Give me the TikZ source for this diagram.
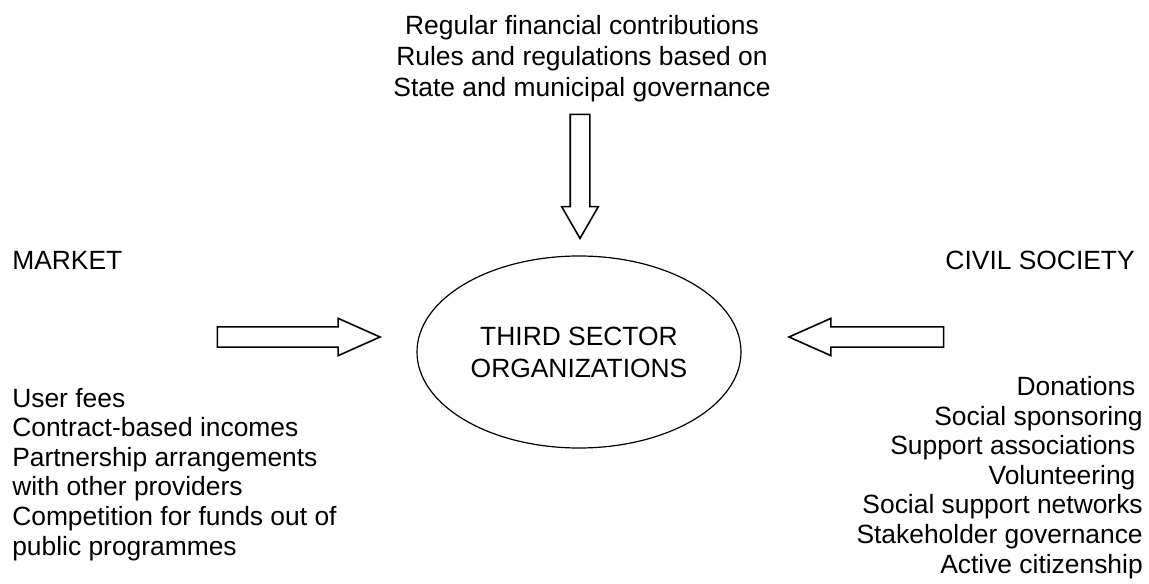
\documentclass[tikz,border=0pt]{standalone}
\usepackage{fontspec}
\setmainfont{Liberation Sans}
\usetikzlibrary{shapes,shapes.arrows,positioning}

\begin{document}
\begin{tikzpicture}[x=0.75pt, y=-0.75pt,
    every node/.style={inner sep=0pt, font=\fontsize{19.8}{22.2}\selectfont},
    fatarrow/.style={single arrow, draw, line width=1.2pt, inner xsep=0pt,
      inner ysep=7pt, single arrow head extend=6.4pt, single arrow tip angle=48}]
    \useasboundingbox (0,0) rectangle (1149,584);

    \node[draw, ellipse, line width=0.9pt, minimum width=243pt, minimum height=144pt,
      align=center, font=\fontsize{19.8}{24}\selectfont] (tso) at (579,352) {THIRD SECTOR\\ORGANIZATIONS};

    % the three sources (base = last line)
    \node[align=center, anchor=base, font=\fontsize{19.8}{23.6}\selectfont] (state) at (582,97)
      {Regular financial contributions\\Rules and regulations based on\\State and municipal governance};
    \node[anchor=base west] (market) at (12,270) {MARKET};
    \node[anchor=base east] (civil) at (1135,270) {CIVIL SOCIETY};

    % block arrows into the centre
    \node[fatarrow, rotate=-90, inner ysep=6.75pt, single arrow tip angle=60,
      minimum height=93pt, anchor=tip] (statearrow) at (580,240) {};
    \node[fatarrow, minimum height=122pt, anchor=tip] (marketarrow) at (382,337) {};
    \node[fatarrow, rotate=180, minimum height=116pt, anchor=tip] (civilarrow) at (787,337) {};

    % what each side brings
    \node[align=left, anchor=base west] (marketitems) at (12,555)
      {User fees\\Contract-based incomes\\Partnership arrangements\\with other providers\\Competition for funds out of\\public programmes};
    \node[align=right, anchor=base east] (civilitems) at (1143,573)
      {Donations\kern5.5pt\\Social sponsoring\\Support associations\kern5.5pt\\Volunteering\kern5.5pt\\Social support networks\\Stakeholder governance\\Active citizenship};
\end{tikzpicture}
\end{document}
